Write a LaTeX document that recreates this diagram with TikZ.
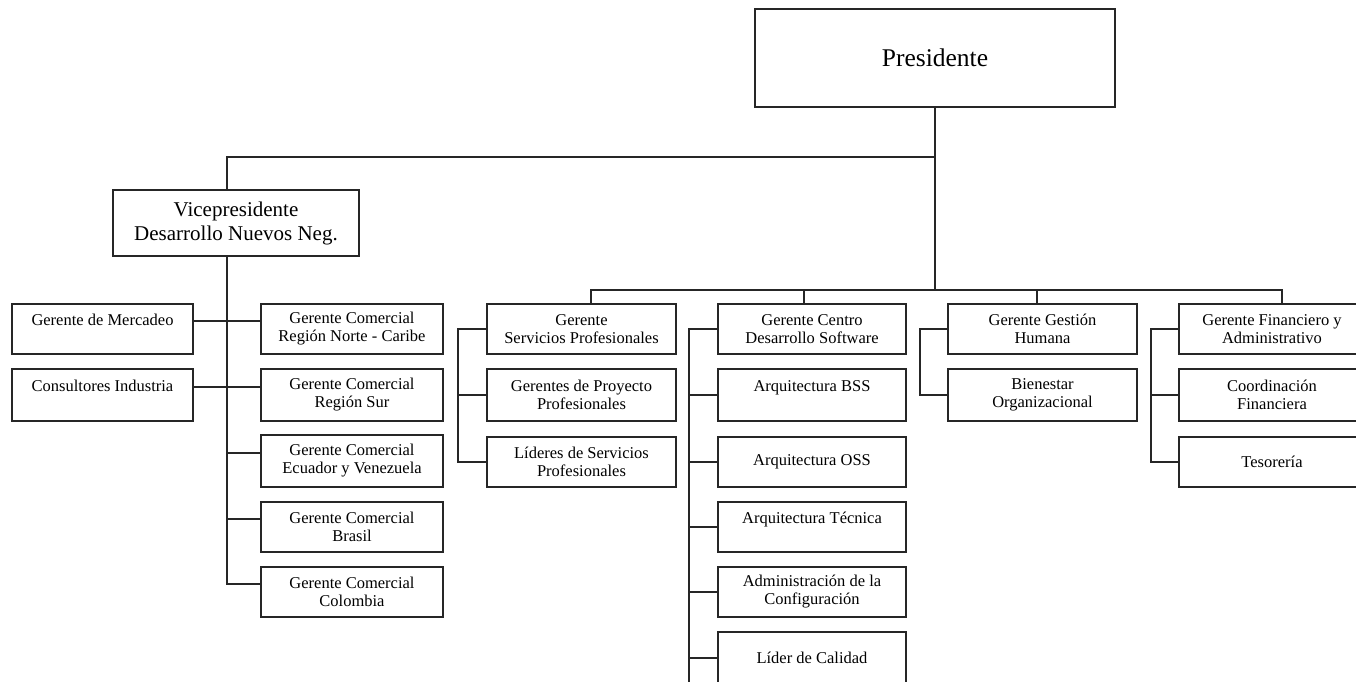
\documentclass[tikz,border=0pt]{standalone}
\usepackage{fontspec}
\setmainfont{Liberation Serif}
\usetikzlibrary{calc}
\begin{document}
\begin{tikzpicture}[x=1pt,y=-1pt,
  box/.style={draw=black!85, line width=1.3pt, align=center, inner sep=0pt, outer sep=0pt,
              font=\fontsize{16.5}{18}\selectfont},
  wire/.style={draw=black!85, line width=1.3pt}]
\useasboundingbox (0,0) rectangle (1356,682);
\clip (0,0) rectangle (1356,682);
\fill[white] (0,0) rectangle (1356,682);

% top level
\node[box, minimum width=360pt, minimum height=98pt, font=\fontsize{25.5}{28}\selectfont] (pres) at (935,58) {Presidente};
\node[box, minimum width=246pt, minimum height=66pt, font=\fontsize{21}{24}\selectfont] (vp) at (236,223) {Vicepresidente\\Desarrollo Nuevos Neg.};

% vice-presidency branch
\node[box, minimum width=181pt, minimum height=50pt] (mer) at (102.5,329) {Gerente de Mercadeo\\\mbox{}};
\node[box, minimum width=181pt, minimum height=52pt] (con) at (102.5,395) {Consultores Industria\\\mbox{}};
\node[box, minimum width=182pt, minimum height=50pt] (nor) at (352,329) {Gerente Comercial\\Región Norte - Caribe};
\node[box, minimum width=182pt, minimum height=52pt] (sur) at (352,395) {Gerente Comercial\\Región Sur};
\node[box, minimum width=182pt, minimum height=52pt] (ecu) at (352,461) {Gerente Comercial\\Ecuador y Venezuela};
\node[box, minimum width=182pt, minimum height=50pt] (bra) at (352,527) {Gerente Comercial\\Brasil};
\node[box, minimum width=182pt, minimum height=50pt] (col) at (352,592) {Gerente Comercial\\Colombia};

% professional services
\node[box, minimum width=189pt, minimum height=50pt] (srv) at (581.5,329) {Gerente\\Servicios Profesionales};
\node[box, minimum width=189pt, minimum height=52pt] (gpp) at (581.5,395) {Gerentes de Proyecto\\Profesionales};
\node[box, minimum width=189pt, minimum height=50pt] (lsp) at (581.5,462) {Líderes de Servicios\\Profesionales};

% software development centre
\node[box, minimum width=188pt, minimum height=50pt] (cds) at (812,329) {Gerente Centro\\Desarrollo Software};
\node[box, minimum width=188pt, minimum height=52pt] (bss) at (812,395) {Arquitectura BSS\\\mbox{}};
\node[box, minimum width=188pt, minimum height=50pt] (oss) at (812,462) {Arquitectura OSS};
\node[box, minimum width=188pt, minimum height=50pt] (tec) at (812,527) {Arquitectura Técnica\\\mbox{}};
\node[box, minimum width=188pt, minimum height=50pt] (adm) at (812,592) {Administración de la\\Configuración};
\node[box, minimum width=188pt, minimum height=52pt] (lca) at (812,658) {Líder de Calidad};

% human resources
\node[box, minimum width=189pt, minimum height=50pt] (ggh) at (1042.5,329) {Gerente Gestión\\Humana};
\node[box, minimum width=189pt, minimum height=52pt] (bor) at (1042.5,395) {Bienestar\\Organizacional};

% finance and administration
\node[box, minimum width=186pt, minimum height=50pt] (gfa) at (1272,329) {Gerente Financiero y\\Administrativo};
\node[box, minimum width=186pt, minimum height=52pt] (cfi) at (1272,395) {Coordinación\\Financiera};
\node[box, minimum width=186pt, minimum height=50pt] (tes) at (1272,462) {Tesorería};

% buses below the president
\coordinate (tbus) at (935,157);
\coordinate (bus) at (935,290);
\coordinate (vpx) at ([xshift=-9pt]vp.south);
\draw[wire] (pres.south) -- (bus);
\draw[wire] (tbus) -| ([xshift=-9pt]vp.north);
\draw[wire] ([xshift=9.5pt]srv.north) |- (bus) -| ([xshift=10pt]gfa.north);
\draw[wire] ([xshift=-8pt]cds.north) -- ([xshift=-8pt]cds.north |- bus);
\draw[wire] ([xshift=-5.5pt]ggh.north) -- ([xshift=-5.5pt]ggh.north |- bus);

% vice-presidency spine
\draw[wire] (vpx) |- ([yshift=8pt]col.west);
\draw[wire] ([yshift=8pt]mer.east) -- ([yshift=8pt]nor.west);
\draw[wire] ([yshift=8pt]con.east) -- ([yshift=8pt]sur.west);
\draw[wire] ([yshift=8pt]ecu.west) -- ([yshift=8pt]ecu.west -| vpx);
\draw[wire] ([yshift=8pt]bra.west) -- ([yshift=8pt]bra.west -| vpx);

% side brackets of each department
\coordinate (sx) at ([xshift=-29pt]srv.west);
\draw[wire] (srv.west) -- (sx) |- (lsp.west);
\draw[wire] (gpp.west) -- (gpp.west -| sx);

\coordinate (cx) at ([xshift=-29pt]cds.west);
\draw[wire] (cds.west) -- (cx) -- (cx |- lca.south);
\foreach \n in {bss,oss,tec,adm,lca}
  \draw[wire] (\n.west) -- (\n.west -| cx);

\coordinate (gx) at ([xshift=-28pt]ggh.west);
\draw[wire] (ggh.west) -- (gx) |- (bor.west);

\coordinate (fx) at ([xshift=-28pt]gfa.west);
\draw[wire] (gfa.west) -- (fx) |- (tes.west);
\draw[wire] (cfi.west) -- (cfi.west -| fx);
\end{tikzpicture}
\end{document}
